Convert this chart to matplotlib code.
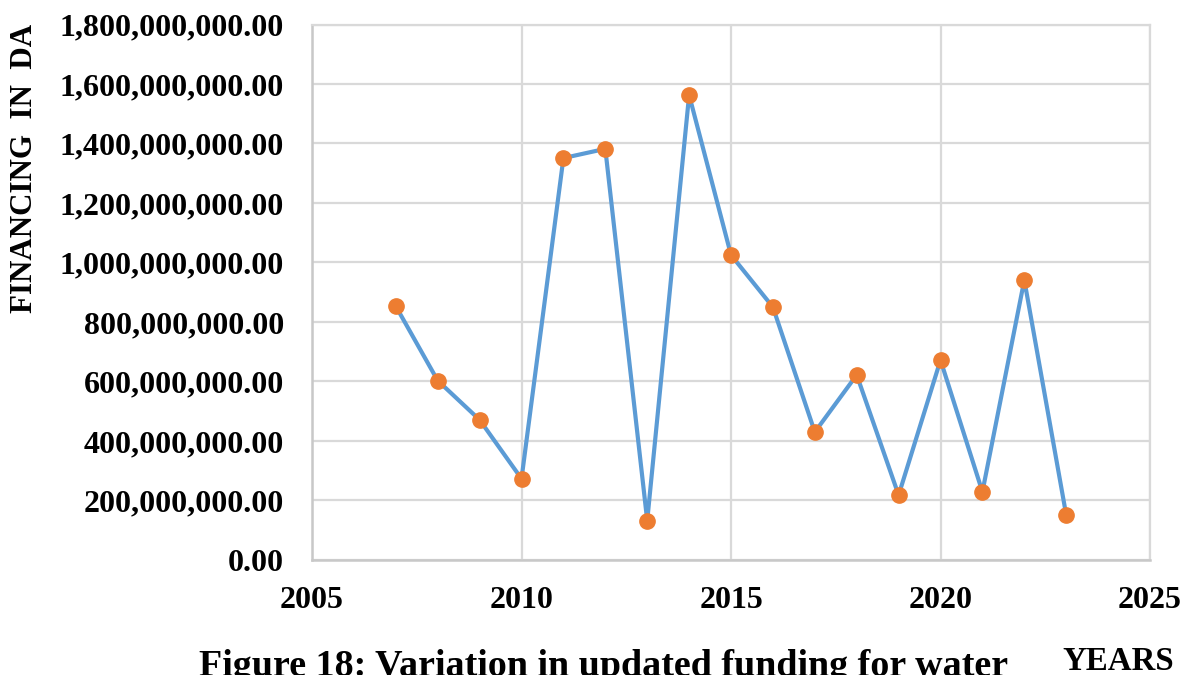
import matplotlib.pyplot as plt
from matplotlib.ticker import FuncFormatter

plt.rcParams['font.family'] = ['Liberation Serif', 'DejaVu Serif']
plt.rcParams['font.weight'] = 'bold'

# updated funding per year (DA)
years = [2007, 2008, 2009, 2010, 2011, 2012, 2013, 2014, 2015,
         2016, 2017, 2018, 2019, 2020, 2021, 2022, 2023]
funding = [853e6, 603e6, 471e6, 273e6, 1351e6, 1382e6, 132e6, 1563e6, 1025e6,
           850e6, 430e6, 622e6, 218e6, 672e6, 229e6, 941e6, 151e6]

fig = plt.figure(figsize=(11.9, 6.75), dpi=100)
ax = fig.add_axes([0.2622, 0.1704, 0.7042, 0.7933])

ax.plot(years, funding, color='#5B9BD5', lw=3, marker='o', ms=11,
        mfc='#ED7D31', mec='#ED7D31', zorder=3)

ax.set_xlim(2005, 2025)
ax.set_ylim(0, 1.8e9)
ax.set_xticks(range(2005, 2026, 5))
ax.set_yticks([i * 2e8 for i in range(10)])
ax.yaxis.set_major_formatter(FuncFormatter(lambda v, p: f'{v:,.2f}'))
ax.tick_params(length=0, labelsize=23)
ax.tick_params(axis='y', pad=20)
ax.tick_params(axis='x', pad=19)

ax.grid(True, color='#d9d9d9', lw=1.6)
ax.set_axisbelow(True)
for s in ['top', 'right']:
    ax.spines[s].set_color('#d9d9d9')
    ax.spines[s].set_linewidth(1.6)
for s in ['left', 'bottom']:
    ax.spines[s].set_color('#c8c8c8')
    ax.spines[s].set_linewidth(1.8)

fig.text(0.021, 0.75, 'FINANCING  IN  DA', rotation=90, fontsize=22.3,
         fontweight='bold', ha='center', va='center')
fig.text(0.940, 0.0074, 'YEARS', fontsize=23.7, fontweight='bold',
         ha='center', va='baseline')
fig.text(0.507, -0.0015, 'Figure 18: Variation in updated funding for water',
         fontsize=27.4, fontweight='bold', ha='center', va='baseline')

fig.savefig('out.png', dpi=100)
